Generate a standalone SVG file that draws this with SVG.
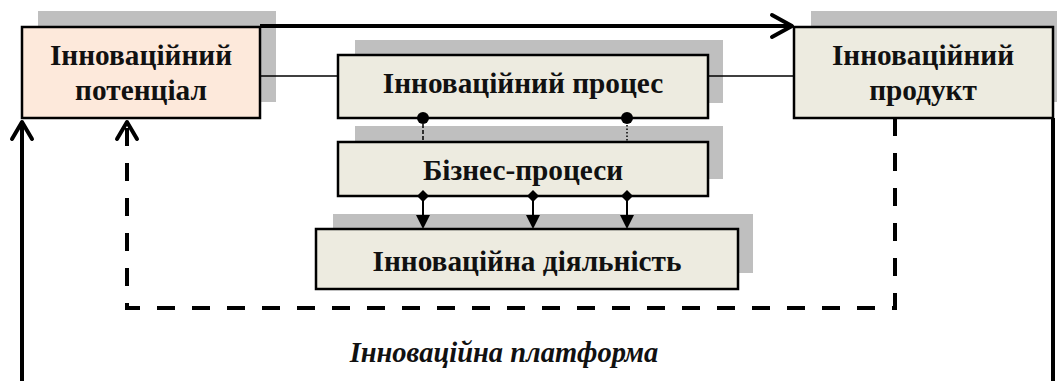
<svg xmlns="http://www.w3.org/2000/svg" width="1057" height="381" viewBox="0 0 1057 381">
<defs>
<style>
.shadow{fill:#bfbfbf}
.box{fill:#edebe0;stroke:#000;stroke-width:2.5}
.peach{fill:#fde9db;stroke:#000;stroke-width:2.5}
.t{font-family:"Liberation Serif","DejaVu Serif",serif;font-weight:bold;font-size:29.3px;fill:#111;text-anchor:middle}
.it{font-style:italic;font-size:28.5px}
.thick{fill:none;stroke:#000;stroke-width:4}
.dash{fill:none;stroke:#000;stroke-width:4;stroke-dasharray:18 17}
.thin{fill:none;stroke:#000;stroke-width:1.5}
.chev{fill:none;stroke:#000;stroke-width:4;stroke-linecap:round;stroke-linejoin:round}
.v{stroke:#000;stroke-width:2}
</style>
</defs>
<rect width="1057" height="381" fill="#fff"/>
<g id="potential">
<rect class="shadow" x="38" y="11" width="238" height="91"/>
<rect class="peach" x="22" y="27" width="238" height="91"/>
<text class="t" x="141" y="65">Інноваційний</text>
<text class="t" x="141" y="100">потенціал</text>
</g>
<g id="process">
<rect class="shadow" x="355" y="40" width="368" height="63"/>
<rect class="box" x="338" y="55" width="370" height="63"/>
<text class="t" x="523" y="93">Інноваційний процес</text>
</g>
<g id="business">
<rect class="shadow" x="355" y="126" width="368" height="53"/>
<rect class="box" x="338" y="142" width="370" height="54"/>
<text class="t" x="523" y="180">Бізнес-процеси</text>
</g>
<g id="activity">
<rect class="shadow" x="333" y="214" width="420" height="59"/>
<rect class="box" x="316" y="229" width="422" height="60"/>
<text class="t" x="527" y="271">Інноваційна діяльність</text>
</g>
<g id="product">
<rect class="shadow" x="811" y="11" width="246" height="91"/>
<rect class="box" x="794" y="27" width="259" height="91"/>
<text class="t" x="923" y="65">Інноваційний</text>
<text class="t" x="923" y="100">продукт</text>
</g>
<g id="connectors">
<path class="thick" d="M260,26 H790"/>
<path class="chev" d="M772,15 L792,26 L772,37"/>
<path class="thin" d="M260,76 H338"/>
<path class="thin" d="M708,76 H794"/>
<line x1="423" y1="118" x2="423" y2="142" stroke="#000" stroke-width="1.5" stroke-dasharray="4 2"/>
<line x1="627" y1="118" x2="627" y2="142" stroke="#000" stroke-width="1.5" stroke-dasharray="1.5 2"/>
<circle cx="423" cy="118" r="6" fill="#000"/>
<circle cx="627" cy="118" r="6" fill="#000"/>
<g fill="#000">
<path d="M423,190 L429,196 L423,202 L417,196 Z"/>
<path d="M533,190 L539,196 L533,202 L527,196 Z"/>
<path d="M627,190 L633,196 L627,202 L621,196 Z"/>
</g>
<line class="v" x1="423" y1="200" x2="423" y2="216"/>
<line class="v" x1="533" y1="200" x2="533" y2="216"/>
<line class="v" x1="627" y1="200" x2="627" y2="216"/>
<g fill="#000">
<path d="M416,215 L430,215 L423,229 Z"/>
<path d="M526,215 L540,215 L533,229 Z"/>
<path d="M620,215 L634,215 L627,229 Z"/>
</g>
<path class="dash" d="M895,118 V308 H127 V126"/>
<path class="chev" d="M117,139 L127,122 L137,139"/>
<path class="thick" d="M22,381 V124"/>
<path class="chev" d="M12,139 L22,122 L32,139"/>
<path class="thick" d="M1053,118 V381"/>
</g>
<text class="t it" x="504" y="362">Інноваційна платформа</text>
</svg>
